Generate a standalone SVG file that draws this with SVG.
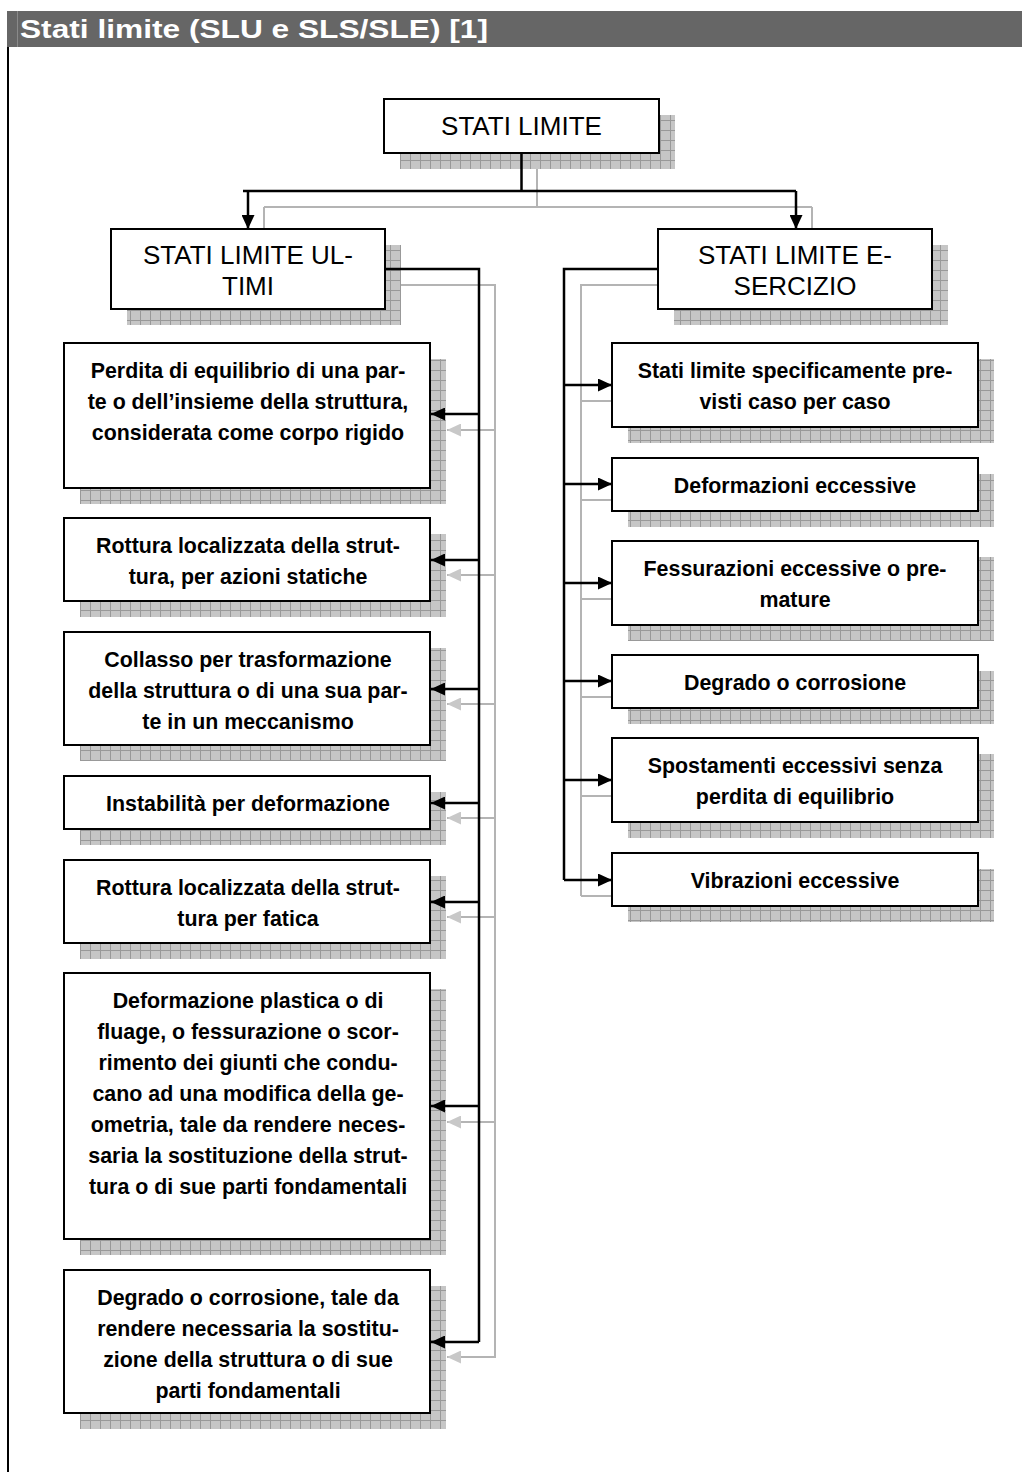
<svg xmlns="http://www.w3.org/2000/svg" width="1022" height="1472" viewBox="0 0 1022 1472">
<style>
.box{fill:#fff;stroke:#000;stroke-width:2}
.shd{fill:url(#hatch)}
.cn{fill:none;stroke:#000;stroke-width:2.5}
.cg{fill:none;stroke:#b4b4b4;stroke-width:2}
.t{font-family:"Liberation Sans",Arial,sans-serif;font-size:26px;fill:#000;text-anchor:middle}
.b{font-family:"Liberation Sans",Arial,sans-serif;font-size:23px;font-weight:bold;fill:#000;text-anchor:middle}
.hd{font-family:"Liberation Sans",Arial,sans-serif;font-size:26.5px;font-weight:bold;fill:#fff}
</style>
<defs>
<pattern id="hatch" patternUnits="userSpaceOnUse" width="10" height="10">
<rect width="10" height="10" fill="#c6c6c6"/>
<path d="M0 0.5H10M0.5 0V10" stroke="#999" stroke-width="1"/>
</pattern>
<marker id="ab" viewBox="0 0 14 13" refX="14" refY="6.5" markerWidth="14" markerHeight="13" markerUnits="userSpaceOnUse" orient="auto"><path d="M0 0L14 6.5L0 13Z" fill="#000"/></marker>
<marker id="ag" viewBox="0 0 14 13" refX="14" refY="6.5" markerWidth="14" markerHeight="13" markerUnits="userSpaceOnUse" orient="auto"><path d="M0 0L14 6.5L0 13Z" fill="#c8c8c8"/></marker>
</defs>

<g id="header">
<rect x="7" y="11" width="1015" height="36" fill="#666"/>
<line x1="17.5" y1="11" x2="17.5" y2="47" stroke="#8a8a8a" stroke-width="1"/>
<text class="hd" x="20" y="37.5" textLength="468" lengthAdjust="spacingAndGlyphs">Stati limite (SLU e SLS/SLE) [1]</text>
<line x1="8" y1="47" x2="8" y2="1472" stroke="#000" stroke-width="2"/>
</g>

<g id="shadows">
<rect class="shd" x="400" y="115" width="275" height="54"/>
<rect class="shd" x="127" y="245" width="274" height="80"/>
<rect class="shd" x="674" y="245" width="274" height="80"/>
<rect class="shd" x="80" y="359" width="366" height="145"/>
<rect class="shd" x="80" y="534" width="366" height="83"/>
<rect class="shd" x="80" y="648" width="366" height="113"/>
<rect class="shd" x="80" y="792" width="366" height="53"/>
<rect class="shd" x="80" y="876" width="366" height="83"/>
<rect class="shd" x="80" y="989" width="366" height="266"/>
<rect class="shd" x="80" y="1286" width="366" height="143"/>
<rect class="shd" x="628" y="359" width="366" height="84"/>
<rect class="shd" x="628" y="474" width="366" height="53"/>
<rect class="shd" x="628" y="557" width="366" height="84"/>
<rect class="shd" x="628" y="671" width="366" height="53"/>
<rect class="shd" x="628" y="754" width="366" height="84"/>
<rect class="shd" x="628" y="869" width="366" height="53"/>
</g>

<g id="connectors">
<g id="connector-shadows">
<path class="cg" d="M537 169V207M264 207H812M264 207V245M812 207V245"/>
<path class="cg" d="M401 285H495V1358"/>
<path class="cg" marker-end="url(#ag)" d="M495 430H447"/>
<path class="cg" marker-end="url(#ag)" d="M495 575H447"/>
<path class="cg" marker-end="url(#ag)" d="M495 704H447"/>
<path class="cg" marker-end="url(#ag)" d="M495 818H447"/>
<path class="cg" marker-end="url(#ag)" d="M495 917H447"/>
<path class="cg" marker-end="url(#ag)" d="M495 1122H447"/>
<path class="cg" marker-end="url(#ag)" d="M495 1357H447"/>
<path class="cg" d="M674 285H581V896"/>
<path class="cg" d="M581 401H628M581 500H628M581 599H628M581 697H628M581 796H628M581 896H628"/>
</g>
</g>

<g id="node-stati-limite"><rect class="box" x="384" y="99" width="275" height="54"/><text class="t" x="521.5" y="135">STATI LIMITE</text></g>
<g id="node-slu"><rect class="box" x="111" y="229" width="274" height="80"/><text class="t" x="248" y="264">STATI LIMITE UL-</text><text class="t" x="248" y="295">TIMI</text></g>
<g id="node-sle"><rect class="box" x="658" y="229" width="274" height="80"/><text class="t" x="795" y="264">STATI LIMITE E-</text><text class="t" x="795" y="295">SERCIZIO</text></g>

<g id="node-u1"><rect class="box" x="64" y="343" width="366" height="145"/><g transform="translate(248 0) scale(0.93 1)"><text class="b" x="0" y="378">Perdita di equilibrio di una par-</text><text class="b" x="0" y="409">te o dell’insieme della struttura,</text><text class="b" x="0" y="440">considerata come corpo rigido</text></g></g>
<g id="node-u2"><rect class="box" x="64" y="518" width="366" height="83"/><g transform="translate(248 0) scale(0.93 1)"><text class="b" x="0" y="553">Rottura localizzata della strut-</text><text class="b" x="0" y="584">tura, per azioni statiche</text></g></g>
<g id="node-u3"><rect class="box" x="64" y="632" width="366" height="113"/><g transform="translate(248 0) scale(0.93 1)"><text class="b" x="0" y="667">Collasso per trasformazione</text><text class="b" x="0" y="698">della struttura o di una sua par-</text><text class="b" x="0" y="729">te in un meccanismo</text></g></g>
<g id="node-u4"><rect class="box" x="64" y="776" width="366" height="53"/><g transform="translate(248 0) scale(0.93 1)"><text class="b" x="0" y="811">Instabilità per deformazione</text></g></g>
<g id="node-u5"><rect class="box" x="64" y="860" width="366" height="83"/><g transform="translate(248 0) scale(0.93 1)"><text class="b" x="0" y="895">Rottura localizzata della strut-</text><text class="b" x="0" y="926">tura per fatica</text></g></g>
<g id="node-u6"><rect class="box" x="64" y="973" width="366" height="266"/><g transform="translate(248 0) scale(0.93 1)"><text class="b" x="0" y="1008">Deformazione plastica o di</text><text class="b" x="0" y="1039">fluage, o fessurazione o scor-</text><text class="b" x="0" y="1070">rimento dei giunti che condu-</text><text class="b" x="0" y="1101">cano ad una modifica della ge-</text><text class="b" x="0" y="1132">ometria, tale da rendere neces-</text><text class="b" x="0" y="1163">saria la sostituzione della strut-</text><text class="b" x="0" y="1194">tura o di sue parti fondamentali</text></g></g>
<g id="node-u7"><rect class="box" x="64" y="1270" width="366" height="143"/><g transform="translate(248 0) scale(0.93 1)"><text class="b" x="0" y="1305">Degrado o corrosione, tale da</text><text class="b" x="0" y="1336">rendere necessaria la sostitu-</text><text class="b" x="0" y="1367">zione della struttura o di sue</text><text class="b" x="0" y="1398">parti fondamentali</text></g></g>

<g id="node-e1"><rect class="box" x="612" y="343" width="366" height="84"/><g transform="translate(795 0) scale(0.93 1)"><text class="b" x="0" y="378">Stati limite specificamente pre-</text><text class="b" x="0" y="409">visti caso per caso</text></g></g>
<g id="node-e2"><rect class="box" x="612" y="458" width="366" height="53"/><g transform="translate(795 0) scale(0.93 1)"><text class="b" x="0" y="493">Deformazioni eccessive</text></g></g>
<g id="node-e3"><rect class="box" x="612" y="541" width="366" height="84"/><g transform="translate(795 0) scale(0.93 1)"><text class="b" x="0" y="576">Fessurazioni eccessive o pre-</text><text class="b" x="0" y="607">mature</text></g></g>
<g id="node-e4"><rect class="box" x="612" y="655" width="366" height="53"/><g transform="translate(795 0) scale(0.93 1)"><text class="b" x="0" y="690">Degrado o corrosione</text></g></g>
<g id="node-e5"><rect class="box" x="612" y="738" width="366" height="84"/><g transform="translate(795 0) scale(0.93 1)"><text class="b" x="0" y="773">Spostamenti eccessivi senza</text><text class="b" x="0" y="804">perdita di equilibrio</text></g></g>
<g id="node-e6"><rect class="box" x="612" y="853" width="366" height="53"/><g transform="translate(795 0) scale(0.93 1)"><text class="b" x="0" y="888">Vibrazioni eccessive</text></g></g>

<g id="connectors-main">
<path class="cn" d="M521.5 153V191M243 191H796"/>
<path class="cn" marker-end="url(#ab)" d="M248 191V229"/>
<path class="cn" marker-end="url(#ab)" d="M796 191V229"/>
<path class="cn" d="M385 269H479V1342"/>
<path class="cn" marker-end="url(#ab)" d="M479 414H431"/>
<path class="cn" marker-end="url(#ab)" d="M479 560H431"/>
<path class="cn" marker-end="url(#ab)" d="M479 689H431"/>
<path class="cn" marker-end="url(#ab)" d="M479 803H431"/>
<path class="cn" marker-end="url(#ab)" d="M479 902H431"/>
<path class="cn" marker-end="url(#ab)" d="M479 1106H431"/>
<path class="cn" marker-end="url(#ab)" d="M479 1342H431"/>
<path class="cn" d="M658 269H564V880"/>
<path class="cn" marker-end="url(#ab)" d="M564 385H612"/>
<path class="cn" marker-end="url(#ab)" d="M564 484H612"/>
<path class="cn" marker-end="url(#ab)" d="M564 583H612"/>
<path class="cn" marker-end="url(#ab)" d="M564 681H612"/>
<path class="cn" marker-end="url(#ab)" d="M564 780H612"/>
<path class="cn" marker-end="url(#ab)" d="M564 880H612"/>
</g>
</svg>
